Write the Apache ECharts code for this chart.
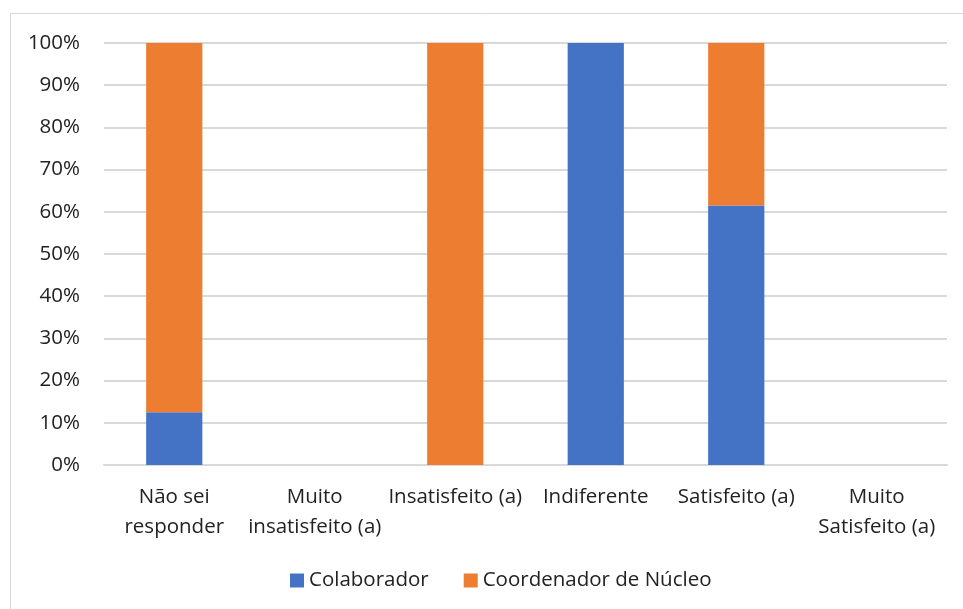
<!DOCTYPE html>
<html>
<head>
<meta charset="utf-8">
<script src="https://cdn.jsdelivr.net/npm/echarts@6/dist/echarts.min.js"></script>
<style>
  html, body { margin: 0; padding: 0; background: #fff; }
  #chart { width: 963px; height: 609px; }
</style>
</head>
<body>
<div id="chart"></div>
<script>
// Satisfaction levels (x-axis)
const categories = [
  'Não sei\nresponder',
  'Muito\ninsatisfeito (a)',
  'Insatisfeito (a)',
  'Indiferente',
  'Satisfeito (a)',
  'Muito\nSatisfeito (a)'
];
// Share of answers per group, in percent
const colaborador = [12.5, 0, 0, 100, 61.5, 0];
const coordenador = [87.5, 0, 100, 0, 38.5, 0];
const seriesNames = ['Colaborador', 'Coordenador de Núcleo'];

const FONT = '"Open Sans", "Liberation Sans", sans-serif';
const FONT_SIZE = 20.5;
const chart = echarts.init(document.getElementById('chart'));

chart.setOption({
  animation: false,
  textStyle: { fontFamily: FONT },
  graphic: [{
    type: 'rect',
    shape: { x: 10.5, y: 13.5, width: 1000, height: 700 },
    style: { fill: 'none', stroke: '#d9d9d9', lineWidth: 1 },
    silent: true
  }],
  grid: { left: 104, right: 16, top: 43, bottom: 144 },
  legend: {
    top: 565,
    left: 285,
    itemWidth: 14,
    itemHeight: 14,
    itemGap: 35,
    icon: 'rect',
    textStyle: { fontFamily: FONT, fontSize: FONT_SIZE, color: '#222' },
    data: seriesNames
  },
  xAxis: {
    type: 'category',
    data: categories,
    axisLine: { show: true, lineStyle: { color: '#d9d9d9', width: 2 } },
    axisTick: { show: false },
    axisLabel: {
      interval: 0,
      margin: 17,
      fontFamily: FONT,
      fontSize: FONT_SIZE,
      lineHeight: 30,
      color: '#222'
    }
  },
  yAxis: {
    type: 'value',
    min: 0,
    max: 100,
    interval: 10,
    axisLine: { show: false },
    axisTick: { show: false },
    splitLine: { lineStyle: { color: '#d9d9d9', width: 2 } },
    axisLabel: {
      formatter: '{value}%',
      margin: 24,
      fontFamily: FONT,
      fontSize: FONT_SIZE,
      color: '#222'
    }
  },
  series: [
    {
      name: seriesNames[0],
      type: 'bar',
      stack: 'total',
      barWidth: '40%',
      itemStyle: { color: '#4472c4' },
      data: colaborador
    },
    {
      name: seriesNames[1],
      type: 'bar',
      stack: 'total',
      barWidth: '40%',
      itemStyle: { color: '#ed7d31' },
      data: coordenador
    }
  ]
});
</script>
</body>
</html>
